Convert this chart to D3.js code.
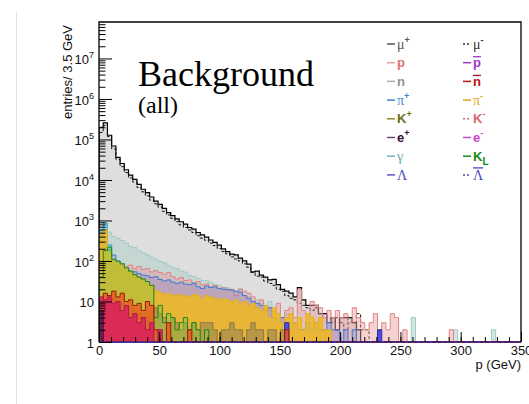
<!DOCTYPE html>
<html>
<head>
<meta charset="utf-8">
<script src="https://cdn.jsdelivr.net/npm/d3@7"></script>
<style>
body { margin: 0; background: #fff; }
svg { display: block; }
</style>
</head>
<body>
<script>
// histogram binning: 100 bins of 3.5 GeV from 0 to 350
const binWidth = 3.5;
const nBins = 100;

// entries per bin (empty bins past the end of each list)
const muPlus = [200000, 257000, 127000, 69000, 36000, 25500, 17900, 13200, 10400, 7800,
  5900, 4850, 3800, 3000, 2500, 1980, 1570, 1320, 1100, 930,
  810, 670, 610, 505, 440, 390, 330, 288, 245, 200,
  170, 148, 141, 118, 101, 84, 54, 56, 45, 40,
  34, 35, 26, 20, 18, 16, 13, 22, 11, 8,
  8, 8, 5, 5, 3, 4, 2, 4, 4, 4,
  3, 2];
const muMinus = [149000, 221000, 118000, 58500, 32400, 21300, 15200, 11200, 8900, 6500,
  5100, 4050, 3180, 2580, 2130, 1680, 1370, 1130, 935, 775,
  670, 583, 505, 420, 365, 324, 276, 240, 203, 172,
  150, 126, 112, 100, 85, 70, 52, 42, 40, 32,
  28, 25, 20, 18, 14, 12, 11, 9, 8, 7,
  6, 7, 5, 4, 4, 3, 4, 3, 2, 4,
  3, 5, 2, 2];
const gammaH = [650, 730, 515, 405, 360, 320, 272, 226, 215, 178,
  158, 140, 124, 110, 97, 90, 77, 68, 64, 56,
  53, 44, 42, 37, 33, 33, 29, 26, 25, 21,
  22, 19, 17, 21, 14, 13, 10, 11, 9, 8,
  10, 6, 5, 4, 5, 3, 3, 2, 0, 0,
  0, 0, 0, 0, 0, 0, 0, 0, 0, 0,
  0, 0, 0, 0, 0, 0, 0, 0, 0, 0,
  0, 0, 0, 0, 4, 0, 0, 0, 0, 0,
  0, 0, 0, 0, 2, 0, 0, 0, 0, 0,
  0, 0, 0, 2];
const neutron = [560, 870, 250];
const proton = [42, 82, 105, 93, 82, 87, 74, 79, 65, 74,
  62, 65, 54, 58, 52, 47, 52, 41, 36, 39,
  33, 34, 29, 31, 26, 27, 23, 25, 21, 22,
  19, 20, 14, 20, 18, 16, 13, 9, 11, 7,
  7, 6, 9, 4, 6, 7, 4, 20, 6, 4,
  10, 8, 7, 4, 6, 4, 6, 4, 5, 3,
  7, 4, 3, 2, 3, 5, 2, 3, 2, 5,
  4, 0, 2, 0, 0, 0, 0, 0, 0, 0,
  0, 0, 0, 2];
const piPlus = [420, 520, 190, 140, 98, 78, 61, 56, 54, 49,
  45, 43, 39, 41, 35, 32, 34, 30, 28, 30,
  27, 26, 28, 23, 21, 24, 22, 23, 21, 20,
  20, 19, 18, 17, 14, 12, 10, 9, 8, 6,
  7, 4, 3, 4, 3, 2, 3, 2, 2, 3,
  2, 3, 2, 2, 3, 2, 2, 0, 2, 0,
  2];
const piMinus = [465, 585, 170, 100, 90, 80, 65, 55, 45, 40,
  35, 30, 24, 19, 17, 15, 16, 14, 15, 14,
  14, 13, 15, 14, 12, 14, 13, 12, 11, 12,
  11, 10, 11, 9, 10, 8, 9, 7, 6, 8,
  4, 7, 5, 3, 4, 5, 3, 4, 2, 5,
  4, 3, 4, 2, 2];
const kPlus = [10, 14, 12, 12, 10, 9, 8, 7, 6, 5,
  4, 4, 3, 7, 5, 4, 3, 4, 3, 2,
  3, 2, 3, 2, 3, 3, 3, 2, 0, 2,
  2, 3, 2, 2, 0, 2, 3, 2, 2, 0,
  2, 2, 0, 2];
const kLong = [40, 180, 220, 110, 100, 85, 68, 56, 46, 40,
  36, 31, 25, 4, 8, 3, 5, 4, 2, 3,
  4, 2, 3, 2, 0, 2];
const lambdaH = [0, 0, 0, 0, 0, 0, 0, 0, 0, 0,
  0, 0, 0, 0, 0, 0, 0, 0, 0, 0,
  0, 0, 0, 0, 0, 0, 0, 0, 0, 0,
  0, 0, 0, 0, 0, 0, 0, 0, 0, 0,
  0, 0, 0, 0, 3, 0, 0, 0, 0, 0,
  0, 0, 0, 0, 0, 0, 0, 0, 0, 0,
  0, 0, 0, 0, 0, 0, 2];
const nBar = [8, 16, 14, 18, 13, 16, 10, 11, 8, 9,
  6, 10, 8, 2, 0, 0, 3, 0, 0, 0,
  0, 2, 0, 0, 0, 0, 0, 0, 0, 0,
  0, 0, 0, 0, 0, 0, 0, 0, 0, 0,
  0, 0, 0, 0, 2];
const eMinus = [13, 11, 13, 9, 10, 6, 8, 4, 5, 3, 4, 2, 3, 0, 2];
const ePlus = [6];
const lambdaBar = [];

// axis ticks
const xMajor = [0, 50, 100, 150, 200, 250, 300, 350];
const yExp = [0, 1, 2, 3, 4, 5, 6, 7];

// legend, two columns
const legendLeft = [
  {t: "μ", sup: "+"}, {t: "p", b: 1}, {t: "n", b: 1}, {t: "π", sup: "+"},
  {t: "K", sup: "+", b: 1}, {t: "e", sup: "+", b: 1}, {t: "γ"}, {t: "Λ"}
];
const legendRight = [
  {t: "μ", sup: "-"}, {t: "p", b: 1, bar: 1}, {t: "n", b: 1, bar: 1}, {t: "π", sup: "-"},
  {t: "K", sup: "-", b: 1}, {t: "e", sup: "-", b: 1}, {t: "K", sub: "L", b: 1}, {t: "Λ", bar: 1}
];
const leftColors = ["#555", "#e07070", "#8a9a8a", "#3a86d6", "#6e6e14", "#3a0a3a", "#6aa6a6", "#4848c0"];
const leftLines = ["#555", "#e8a0a0", "#a0b0a8", "#3a86d6", "#8a8a30", "#6a4a6a", "#7ab4b4", "#5555cc"];
const rightColors = ["#333", "#9a38cc", "#b81414", "#dca626", "#dc6474", "#cc44cc", "#148a14", "#4848c0"];
const rightDash = [true, false, false, false, true, false, false, true];

const W = 529, H = 404;
const svg = d3.select("body").append("svg").attr("width", W).attr("height", H);

const x = d3.scaleLinear().domain([0, 350]).range([99, 521]);
const y = d3.scaleLog().domain([1, 7.94e7]).range([342, 22]);

// faint page border on the left
svg.append("line").attr("x1", 16.5).attr("x2", 16.5).attr("y1", 12).attr("y2", H)
  .attr("stroke", "#e2e2e2");

svg.append("defs").append("clipPath").attr("id", "plot")
  .append("rect").attr("x", x(0)).attr("y", y.range()[1]).attr("width", x(350) - x(0))
  .attr("height", y(1) - y.range()[1] + 2);

// bottom frame line sits under the histograms
svg.append("line").attr("x1", x(0)).attr("x2", x(350)).attr("y1", y(1)).attr("y2", y(1))
  .attr("stroke", "#000").attr("stroke-width", 1.2);

const series = [
  {data: muPlus, fill: "#dedede", op: 1, stroke: "#000", sw: 1.2},
  {data: muMinus, fill: "none", stroke: "#111", dash: "3,2"},
  {data: gammaH, fill: "#b2cfcb", op: 0.55, stroke: "#a3c8c4"},
  {data: neutron, fill: "#5ccfe0", op: 0.85, stroke: "#3aa8c0"},
  {data: proton, fill: "#e89a9a", op: 0.45, stroke: "#e08484"},
  {data: piPlus, fill: "#8070c0", op: 0.3, stroke: "#3a7ad8"},
  {data: piMinus, fill: "#f0b820", op: 0.85, stroke: "#e2b024"},
  {data: kPlus, fill: "#8a7a5a", op: 0.5, stroke: "#8a7a40"},
  {data: kLong, fill: "#8cc83c", op: 0.42, stroke: "#1a8a1a"},
  {data: lambdaH, fill: "#4d4de0", op: 1, stroke: "#2a2aa0"},
  {data: nBar, fill: "#e85a20", op: 0.8, stroke: "#9a1a08"},
  {data: eMinus, fill: "#d8205f", op: 0.85, stroke: "#b01848"},
  {data: ePlus, fill: "#502050", op: 0.8, stroke: "#3a103a"},
  {data: lambdaBar, fill: "none", stroke: "#3333cc", dash: "3,3", sw: 1.5}
];

function binsOf(data) {
  const pts = [{p: 0, n: 1}];
  for (let i = 0; i < nBins; i++) pts.push({p: i * binWidth, n: data[i] || 0});
  pts.push({p: nBins * binWidth, n: 0});
  return pts;
}

const area = d3.area().curve(d3.curveStepAfter)
  .x(d => x(d.p)).y0(y(1)).y1(d => y(Math.max(d.n, 1)));
const line = d3.line().curve(d3.curveStepAfter)
  .x(d => x(d.p)).y(d => y(Math.max(d.n, 1)));

const g = svg.append("g").attr("clip-path", "url(#plot)");
series.forEach(s => {
  const pts = binsOf(s.data);
  if (s.fill !== "none") {
    g.append("path").attr("d", area(pts)).attr("fill", s.fill).attr("fill-opacity", s.op);
  }
  g.append("path").attr("d", line(pts)).attr("fill", "none")
    .attr("stroke", s.stroke).attr("stroke-width", s.sw || 1)
    .attr("stroke-dasharray", s.dash || null);
});

// frame (left, top, right)
svg.append("path")
  .attr("d", `M${x(0)},${y(1)}V${y.range()[1]}H${x(350)}V${y(1)}`)
  .attr("fill", "none").attr("stroke", "#000").attr("stroke-width", 1.3);

// x axis, ticks pointing up
const xAxis = svg.append("g").attr("transform", `translate(0,${y(1)})`)
  .call(d3.axisBottom(x).tickValues(xMajor).tickSizeInner(-10).tickSizeOuter(0).tickPadding(4));
svg.append("g").attr("transform", `translate(0,${y(1)})`)
  .call(d3.axisBottom(x).tickValues(d3.range(0, 351, 10)).tickSize(-5).tickFormat(""))
  .call(a => a.select(".domain").remove());
xAxis.select(".domain").remove();
xAxis.selectAll("text").attr("font-family", "Liberation Sans, Arial, sans-serif")
  .attr("font-size", 13).attr("fill", "#111");

// y axis, log ticks pointing right
const yMinor = [];
yExp.forEach(e => { for (let m = 2; m <= 9; m++) { const v = m * Math.pow(10, e); if (v < y.domain()[1]) yMinor.push(v); } });
svg.append("g").attr("transform", `translate(${x(0)},0)`)
  .call(d3.axisLeft(y).tickValues(yExp.map(e => Math.pow(10, e))).tickSize(-13).tickFormat(""))
  .call(a => a.select(".domain").remove());
svg.append("g").attr("transform", `translate(${x(0)},0)`)
  .call(d3.axisLeft(y).tickValues(yMinor).tickSize(-6.5).tickFormat(""))
  .call(a => a.select(".domain").remove());

const yLab = svg.append("g").attr("font-family", "Liberation Sans, Arial, sans-serif")
  .attr("font-size", 13).attr("fill", "#111").attr("text-anchor", "end");
yExp.forEach(e => {
  const t = yLab.append("text").attr("x", 94).attr("y", y(Math.pow(10, e)) + 1).attr("dy", "0.35em");
  t.append("tspan").text(e === 0 ? "1" : "10");
  if (e > 1) t.append("tspan").attr("dy", -6).attr("font-size", 9).text(e);
});

// axis titles
svg.append("text").attr("x", x(350)).attr("y", 369).attr("text-anchor", "end")
  .attr("font-family", "Liberation Sans, Arial, sans-serif").attr("font-size", 13)
  .attr("fill", "#111").text("p (GeV)");
svg.append("text").attr("transform", "translate(72,25) rotate(-90)").attr("text-anchor", "end")
  .attr("font-family", "Liberation Sans, Arial, sans-serif").attr("font-size", 13)
  .attr("fill", "#111").text("entries/ 3.5 GeV");

// title
svg.append("text").attr("x", 138).attr("y", 86)
  .attr("font-family", "Liberation Serif, Times New Roman, serif").attr("font-size", 36)
  .text("Background");
svg.append("text").attr("x", 138).attr("y", 113)
  .attr("font-family", "Liberation Serif, Times New Roman, serif").attr("font-size", 24)
  .text("(all)");

// legend
function legendEntry(item, lx, ty, lineColor, textColor, dashed) {
  svg.append("line").attr("x1", lx).attr("x2", lx + 8).attr("y1", ty).attr("y2", ty)
    .attr("stroke", lineColor).attr("stroke-width", 1.5)
    .attr("stroke-dasharray", dashed ? "2,2" : null);
  const greek = !item.b;
  const t = svg.append("text").attr("x", lx + 10).attr("y", ty).attr("dy", "0.35em")
    .attr("fill", textColor)
    .attr("font-family", greek ? "Liberation Serif, Times New Roman, serif" : "Liberation Sans, Arial, sans-serif")
    .attr("font-weight", greek ? "normal" : "bold")
    .attr("font-size", greek ? 14 : 13);
  const base = t.append("tspan").text(item.t);
  if (item.sup) t.append("tspan").attr("dy", -6).attr("font-size", 9)
    .attr("font-family", "Liberation Sans, Arial, sans-serif").attr("font-weight", "bold").text(item.sup);
  if (item.sub) t.append("tspan").attr("dy", 4).attr("font-size", 10).text(item.sub);
  if (item.bar) {
    const w = base.node().getComputedTextLength();
    const by = (item.t === "Λ") ? ty - 7 : ty - 6;
    svg.append("line").attr("x1", lx + 10).attr("x2", lx + 10 + w).attr("y1", by).attr("y2", by)
      .attr("stroke", textColor).attr("stroke-width", 1.3);
  }
}
legendLeft.forEach((d, i) => legendEntry(d, 387, 44 + i * 18.7, leftLines[i], leftColors[i], false));
legendRight.forEach((d, i) => legendEntry(d, 463, 44 + i * 18.7, rightColors[i], rightColors[i], rightDash[i]));
</script>
</body>
</html>
